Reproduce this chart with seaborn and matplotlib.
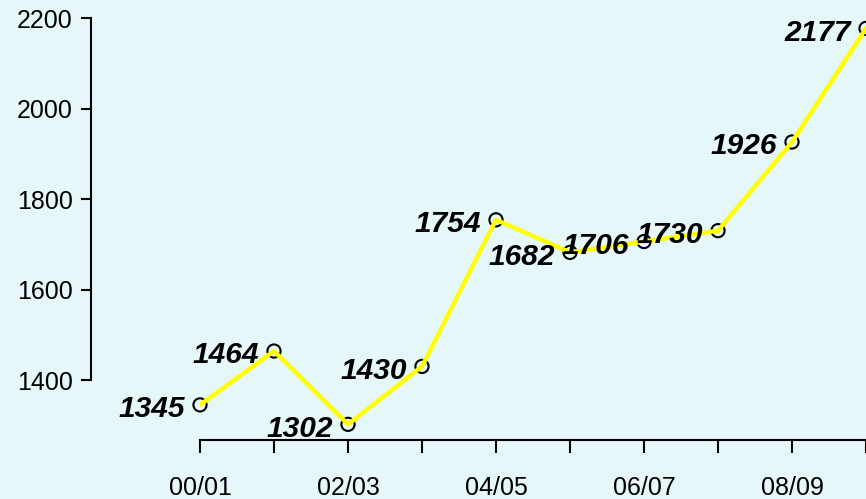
import numpy as np
import matplotlib
matplotlib.use("Agg")
import matplotlib.pyplot as plt
import seaborn as sns

# season labels and values
seasons = ["00/01", "01/02", "02/03", "03/04", "04/05",
           "05/06", "06/07", "07/08", "08/09", "09/10"]
values = [1345, 1464, 1302, 1430, 1754, 1682, 1706, 1730, 1926, 2177]
y_ticks = [1400, 1600, 1800, 2000, 2200]

bg = "#E6F7F9"
sns.set_theme(style="white")
plt.rcParams["font.family"] = ["Liberation Sans", "DejaVu Sans"]

fig = plt.figure(figsize=(8.66, 4.99), dpi=100, facecolor=bg)
ax = fig.add_axes([200 / 866, 59 / 499, 666 / 866, 440 / 499])
ax.set_facecolor(bg)

x = np.arange(len(seasons))

# open circles first, the yellow line on top of them
sns.scatterplot(x=x, y=values, ax=ax, marker="o", s=90,
                facecolor="none", edgecolor="black", linewidth=1.5,
                zorder=2, clip_on=False)
sns.lineplot(x=x, y=values, ax=ax, color="#FFFF00", linewidth=3.2, zorder=3)

for xi, v in zip(x, values):
    ax.annotate(str(v), (xi, v), xytext=(-11, -3), textcoords="offset points",
                ha="right", va="center", fontsize=21.5, fontweight="bold",
                fontstyle="italic", color="black", zorder=4)

ax.set_xlim(0, 9)
ax.set_ylim(1267.4, 2239.8)

ax.set_xticks(x)
ax.set_xticklabels([s if i % 2 == 0 else "" for i, s in enumerate(seasons)])
ax.set_yticks(y_ticks)

for side in ["top", "right"]:
    ax.spines[side].set_visible(False)
ax.spines["left"].set_position(("outward", 109 * 0.72))
ax.spines["left"].set_bounds(1400, 2200)
ax.spines["bottom"].set_bounds(0, 9)
for side in ["left", "bottom"]:
    ax.spines[side].set_color("black")
    ax.spines[side].set_linewidth(1.5)

ax.tick_params(axis="y", direction="out", length=7, width=1.5, pad=6,
               labelsize=18, colors="black", left=True)
ax.tick_params(axis="x", direction="out", length=9, width=1.5, pad=17,
               labelsize=18, colors="black", bottom=True)
ax.set_xlabel("")
ax.set_ylabel("")

fig.savefig("out.png", dpi=100, facecolor=bg)
